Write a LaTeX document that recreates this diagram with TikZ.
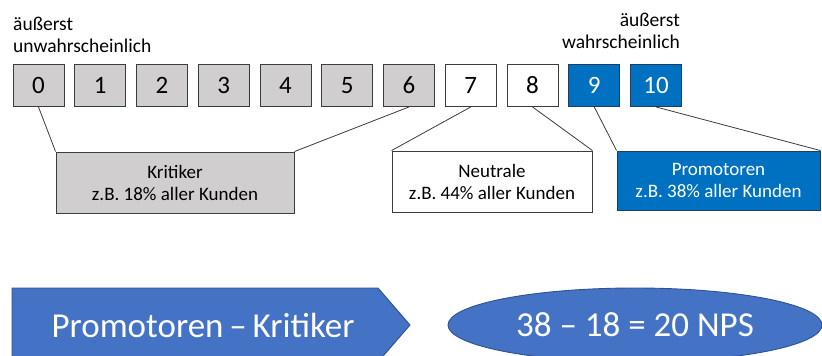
\documentclass[tikz,border=0pt]{standalone}
\usepackage{fontspec}
\setmainfont{Carlito}
\usetikzlibrary{shapes.geometric}
\definecolor{critgray}{RGB}{208,206,206}
\definecolor{promoblue}{RGB}{0,112,192}
\definecolor{promoedge}{RGB}{30,60,100}
\definecolor{calcblue}{RGB}{68,114,196}
\definecolor{calcedge}{RGB}{47,82,143}
\definecolor{edgegray}{RGB}{60,60,60}
\begin{document}
\begin{tikzpicture}[x=1pt,y=-1pt,
  scorebox/.style={draw=edgegray,line width=0.9pt,minimum width=51pt,minimum height=42pt,inner sep=0pt,
    font=\fontsize{25}{25}\selectfont},
  critic/.style={scorebox,fill=critgray,text=black},
  neutral/.style={scorebox,fill=white,text=black},
  promoter/.style={scorebox,fill=promoblue,draw=promoedge,text=white},
  groupbox/.style={draw=edgegray,line width=0.9pt,inner sep=0pt,align=center,
    font=\fontsize{19}{22}\selectfont},
  scalelabel/.style={inner sep=0pt,font=\fontsize{19.5}{21.5}\selectfont},
  calctext/.style={text=white,inner sep=0pt,font=\fontsize{35}{35}\selectfont},
  link/.style={draw=edgegray,line width=0.8pt}]
\useasboundingbox (0,0) rectangle (822,356);

% scale end labels
\node[scalelabel,anchor=north west,align=left] (lowlabel) at (13,17) {äußerst\\unwahrscheinlich};
\node[scalelabel,anchor=north east,align=right] (highlabel) at (680,13) {äußerst\\wahrscheinlich};

% score boxes 0..10
\foreach \i/\kind in {0/critic,1/critic,2/critic,3/critic,4/critic,5/critic,6/critic,7/neutral,8/neutral,9/promoter,10/promoter}{
  \node[\kind] (s\i) at ({38.5+61.75*\i},85.5) {\i};
}

% group boxes
\node[groupbox,fill=critgray,minimum width=238pt,minimum height=61pt] (kritiker) at (175,182.5)
  {Kritiker\\z.B. 18\% aller Kunden};
\node[groupbox,fill=white,minimum width=200pt,minimum height=61pt] (neutrale) at (492,181.5)
  {Neutrale\\z.B. 44\% aller Kunden};
\node[groupbox,fill=promoblue,draw=promoedge,text=white,minimum width=203pt,minimum height=59pt] (promotoren) at (718.5,180.5)
  {Promotoren\\z.B. 38\% aller Kunden};

% bracket lines from the scores to their groups
\draw[link] (s0.south) -- (kritiker.north west);
\draw[link] (s6.south) -- (kritiker.north east);
\draw[link] (s7.south) -- (neutrale.north west);
\draw[link] (s8.south) -- (neutrale.north east);
\draw[link] (s9.south) -- (promotoren.north west);
\draw[link] (s10.south) -- (promotoren.north east);

% calculation row
\draw[fill=calcblue,draw=calcedge,line width=0.9pt] (12,288) -- (378,288) -- (410,325) -- (378,362) -- (12,362) -- cycle;
\node[calctext] (formula) at (203,325) {Promotoren\,–\,Kritiker};
\node[ellipse,fill=calcblue,draw=calcedge,line width=0.9pt,minimum width=374pt,minimum height=74pt,inner sep=0pt,
  calctext] (result) at (635,325) {38 – 18 = 20 NPS};
\end{tikzpicture}
\end{document}
